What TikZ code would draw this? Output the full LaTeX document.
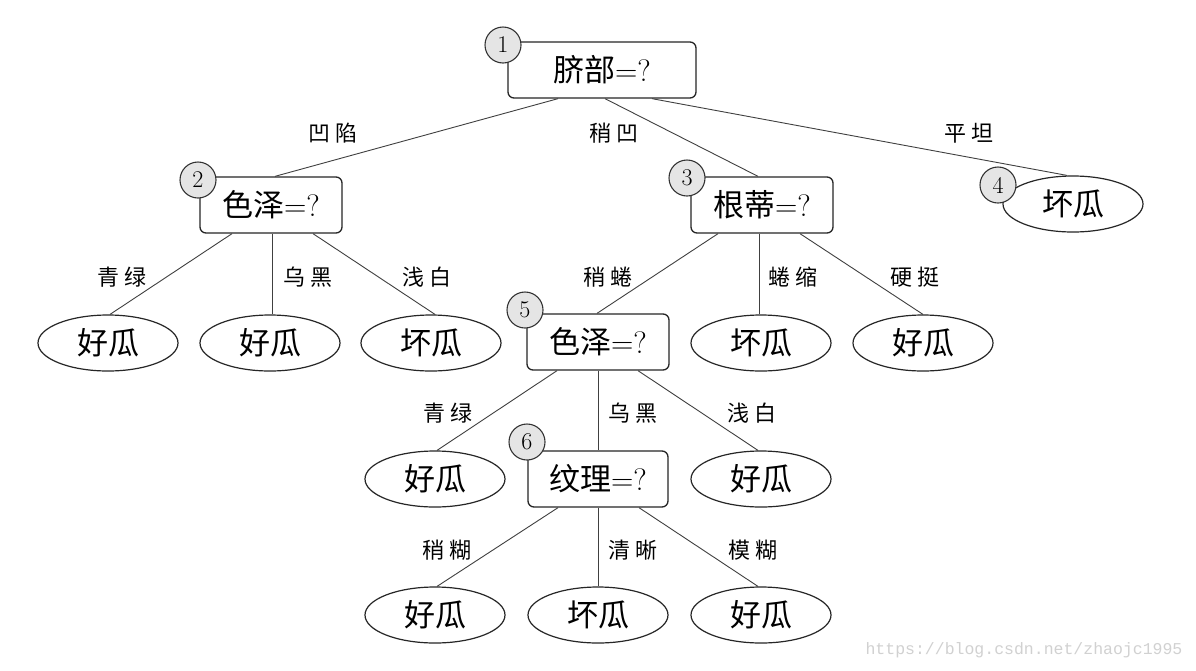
\documentclass[tikz,border=0pt]{standalone}
\usepackage{fontspec}
\newfontfamily\cjk{Noto Sans CJK SC}
\setmonofont{Liberation Mono}
\usetikzlibrary{shapes.geometric}
\tikzset{
  qbox/.style={draw=black!85, line width=1.3pt, rounded corners=6pt, minimum width=142pt, minimum height=56pt, inner sep=0pt, fill=white, font=\fontsize{31}{34}\selectfont},
  leaf/.style={draw=black!85, line width=1.2pt, ellipse, minimum width=140pt, minimum height=56pt, inner sep=0pt, font=\cjk\fontsize{31}{34}\selectfont},
  tag/.style={draw=black!80, line width=1.1pt, circle, fill=black!10, minimum size=36pt, inner sep=0pt, font=\fontsize{24}{26}\selectfont},
  elabel/.style={font=\cjk\fontsize{22}{24}\selectfont, inner sep=0pt},
  edge/.style={draw=black!75, line width=0.9pt}
}
\newcommand{\lsp}{\hspace{5pt}}
\begin{document}
\begin{tikzpicture}[x=1pt,y=-1pt]
\useasboundingbox[fill=white] (0,0) rectangle (1196,670);
% decision boxes
\node[qbox, minimum width=188pt] (n1) at (602,70) {{\cjk 脐部}=?};
\node[qbox] (n2) at (271,205) {{\cjk 色泽}=?};
\node[qbox] (n3) at (762,205) {{\cjk 根蒂}=?};
\node[qbox] (n5) at (598,342) {{\cjk 色泽}=?};
\node[qbox, minimum width=140pt] (n6) at (598,479) {{\cjk 纹理}=?};
% leaves
\node[leaf] (l4) at (1073,204) {坏瓜};
\node[leaf] (l21) at (108,343) {好瓜};
\node[leaf] (l22) at (270,343) {好瓜};
\node[leaf] (l23) at (431,343) {坏瓜};
\node[leaf] (l32) at (761,343) {坏瓜};
\node[leaf] (l33) at (923,343) {好瓜};
\node[leaf] (l51) at (435,479) {好瓜};
\node[leaf] (l53) at (761,479) {好瓜};
\node[leaf] (l61) at (435,615) {好瓜};
\node[leaf] (l62) at (598,615) {坏瓜};
\node[leaf] (l63) at (761,615) {好瓜};
% edges
\draw[edge] ([xshift=-44pt]n1.south) -- ([xshift=4pt]n2.north);
\draw[edge] ([xshift=3pt]n1.south) -- ([xshift=-4pt]n3.north);
\draw[edge] ([xshift=50pt]n1.south) -- ([xshift=-6pt]l4.north);
\draw[edge] ([xshift=-39pt]n2.south) -- ([xshift=2pt]l21.north);
\draw[edge] ([xshift=1pt]n2.south) -- ([xshift=2pt]l22.north);
\draw[edge] ([xshift=42pt]n2.south) -- ([xshift=4pt]l23.north);
\draw[edge] ([xshift=-44pt]n3.south) -- ([xshift=-1pt]n5.north);
\draw[edge] ([xshift=-3pt]n3.south) -- ([xshift=-2pt]l32.north);
\draw[edge] ([xshift=38pt]n3.south) -- (l33.north);
\draw[edge] ([xshift=-41pt]n5.south) -- ([xshift=2pt]l51.north);
\draw[edge] (n5.south) -- (n6.north);
\draw[edge] ([xshift=40pt]n5.south) -- ([xshift=-3pt]l53.north);
\draw[edge] ([xshift=-40pt]n6.south) -- ([xshift=2pt]l61.north);
\draw[edge] (n6.south) -- (l62.north);
\draw[edge] ([xshift=41pt]n6.south) -- ([xshift=-3pt]l63.north);
% tags
\node[tag] (t1) at (503,45) {1};
\node[tag] (t2) at (198,180) {2};
\node[tag] (t3) at (687,178) {3};
\node[tag] (t4) at (998,185) {4};
\node[tag] (t5) at (525,310) {5};
\node[tag] (t6) at (527,442) {6};
% edge labels
\node[elabel] (e1) at (333,133) {凹\lsp 陷};
\node[elabel] (e2) at (614,133) {稍\lsp 凹};
\node[elabel] (e3) at (969,133) {平\lsp 坦};
\node[elabel] (e21) at (122,277) {青\lsp 绿};
\node[elabel] (e22) at (308,277) {乌\lsp 黑};
\node[elabel] (e23) at (427,277) {浅\lsp 白};
\node[elabel] (e31) at (608,277) {稍\lsp 蜷};
\node[elabel] (e32) at (793,277) {蜷\lsp 缩};
\node[elabel] (e33) at (915,277) {硬\lsp 挺};
\node[elabel] (e51) at (448,413) {青\lsp 绿};
\node[elabel] (e52) at (633,413) {乌\lsp 黑};
\node[elabel] (e53) at (752,413) {浅\lsp 白};
\node[elabel] (e61) at (447,550) {稍\lsp 糊};
\node[elabel] (e62) at (633,550) {清\lsp 晰};
\node[elabel] (e63) at (753,550) {模\lsp 糊};
% watermark
\node[font=\ttfamily\fontsize{16.5}{18}\selectfont, text=black!18, inner sep=0pt] (wm) at (1024,650) {https://blog.csdn.net/zhaojc1995};
\end{tikzpicture}
\end{document}
